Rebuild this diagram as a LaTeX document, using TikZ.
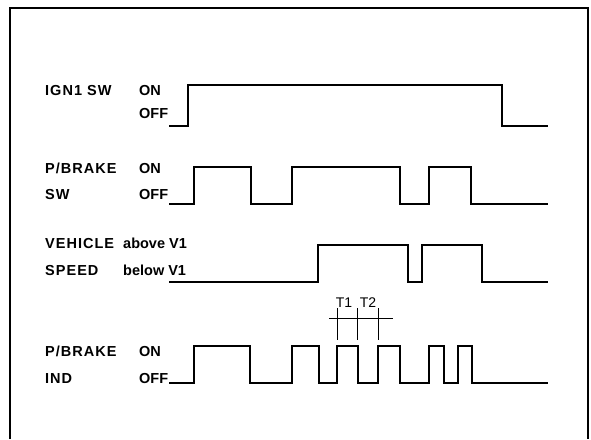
\documentclass[tikz,border=0pt]{standalone}
\usepackage{fontspec}
\setmainfont{Liberation Sans}
\usetikzlibrary{positioning}
\begin{document}
\begin{tikzpicture}[
  x=1pt, y=-1pt,
  frm/.style={line width=2pt},
  wave/.style={line width=2pt, line join=miter},
  tmark/.style={line width=0.8pt},
  lbl/.style={anchor=base west, inner sep=0pt,
              font=\fontsize{14.5}{16}\selectfont\bfseries},
  signame/.style={anchor=base west, inner sep=0pt,
                  font=\fontsize{14.5}{16}\selectfont\bfseries
                  \addfontfeature{LetterSpace=7}},
  tlbl/.style={anchor=base, inner sep=0pt,
               font=\fontsize{14}{16}\selectfont}
]
\useasboundingbox (0,0) rectangle (591,439);
\draw[frm] (10,439) -- (10,8) -- (588,8) -- (588,439);

% signal names and states
\node[signame] (ign)   at (45,95)   {IGN1 SW};
\node[lbl]     (ignon) at (139,95)  {ON};
\node[lbl]     (ignof) at (139,118) {OFF};

\node[signame] (pbk)   at (45,173)  {P/BRAKE};
\node[signame] (pbksw) at (45,199)  {SW};
\node[lbl]     (pbkon) at (139,173) {ON};
\node[lbl]     (pbkof) at (139,199) {OFF};

\node[signame] (veh)   at (45,248)  {VEHICLE};
\node[signame] (spd)   at (45,275)  {SPEED};
\node[lbl]     (vhi)   at (123,248) {above V1};
\node[lbl]     (vlo)   at (123,275) {below V1};

\node[signame] (ind)   at (45,356)  {P/BRAKE};
\node[signame] (indl)  at (45,383)  {IND};
\node[lbl]     (indon) at (139,356) {ON};
\node[lbl]     (indof) at (139,383) {OFF};

% waveforms
\draw[wave] (169,126) -| (188,85) -| (502,126) -- (548,126);
\draw[wave] (169,204) -| (194,167) -| (251,204) -| (292,167) -| (400,204)
  -| (429,167) -| (471,204) -- (548,204);
\draw[wave] (169,282) -| (318,245) -| (408,282) -| (422,245) -| (482,282)
  -- (548,282);
\draw[wave] (169,383) -| (194,346) -| (250,383) -| (292,346) -| (319,383)
  -| (337,346) -| (358,383) -| (378,346) -| (400,383) -| (429,346)
  -| (444,383) -| (458,346) -| (472,383) -- (548,383);

% T1 / T2 timing marks
\draw[tmark] (329,318) -- (393,318);
\foreach \tx in {337,357,378}
  \draw[tmark] (\tx,308) -- (\tx,340);
\node[tlbl] (t1) at (344,307) {T1};
\node[tlbl] (t2) at (368,307) {T2};
\end{tikzpicture}
\end{document}
